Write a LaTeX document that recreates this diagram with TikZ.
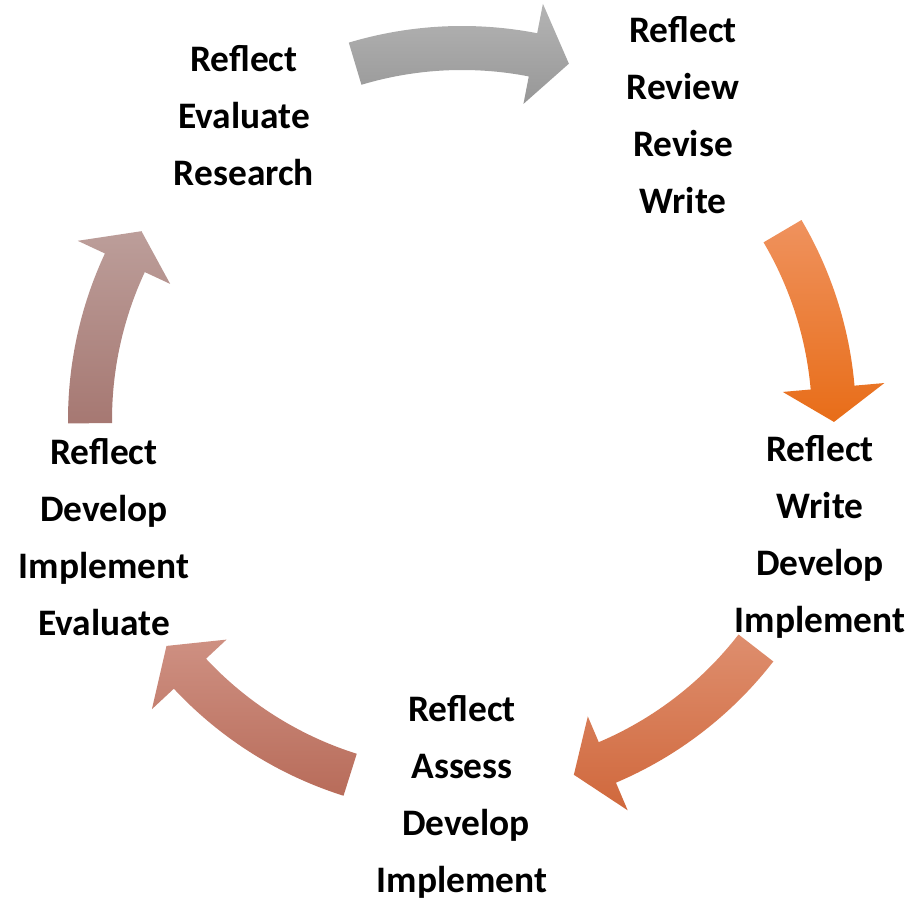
\documentclass[tikz,border=0pt]{standalone}
\usepackage{fontspec}
\setmainfont{Carlito}

% one bent block arrow round the centre: tail angle, head base angle, tip angle, colours
\newcommand{\bentarrow}[5]{%
  \shade[top color=#4, bottom color=#5]
    (#1:394) arc[start angle=#1, end angle=#2, radius=394]
    -- (#2:424) -- (#3:372) -- (#2:322) -- (#2:350)
    arc[start angle=#2, end angle=#1, radius=350] -- cycle;
}

\definecolor{greyTop}{HTML}{B4B4B4}
\definecolor{greyBot}{HTML}{979797}
\definecolor{orangeTop}{HTML}{EF925E}
\definecolor{orangeBot}{HTML}{E86D18}
\definecolor{rustTop}{HTML}{DE8E6E}
\definecolor{rustBot}{HTML}{D0683C}
\definecolor{clayTop}{HTML}{CE9082}
\definecolor{clayBot}{HTML}{B86C5A}
\definecolor{roseTop}{HTML}{BC9E9A}
\definecolor{roseBot}{HTML}{A67872}

\tikzset{
  phase/.style={align=center, inner sep=0pt,
    font=\fontsize{18.7}{28.5}\selectfont\bfseries}
}

\begin{document}
\begin{tikzpicture}[x=0.5pt, y=0.5pt]

    % Frame of the picture
    \useasboundingbox (0,0) rectangle (910,899);

    % Centre of the cycle
    \coordinate (O) at (462,479);

    % The five arrows
    \begin{scope}[shift={(O)}]
        \bentarrow{106.7}{79}{73.3}{greyTop}{greyBot}
        \bentarrow{30.5}{5}{-0.3}{orangeTop}{orangeBot}
        \bentarrow{-37.8}{-67}{-72.5}{rustTop}{rustBot}
        \bentarrow{-107.5}{-137}{-142.6}{clayTop}{clayBot}
        \bentarrow{180.5}{155}{149.5}{roseTop}{roseBot}
    \end{scope}

    % The stages
    \node[phase] (research) at (244,783) {Reflect\\Evaluate\\Research};
    \node[phase] (write) at (683,784) {Reflect\\Review\\Revise\\Write};
    \node[phase] (develop) at (820,362) {Reflect\\Write\\Develop\\Implement};
    \node[phase] (assess) at (462,102.5) {Reflect\\Assess\\\hspace*{4pt}Develop\\Implement};
    \node[phase] (evaluate) at (104,362) {Reflect\\Develop\\Implement\\Evaluate};

\end{tikzpicture}
\end{document}
